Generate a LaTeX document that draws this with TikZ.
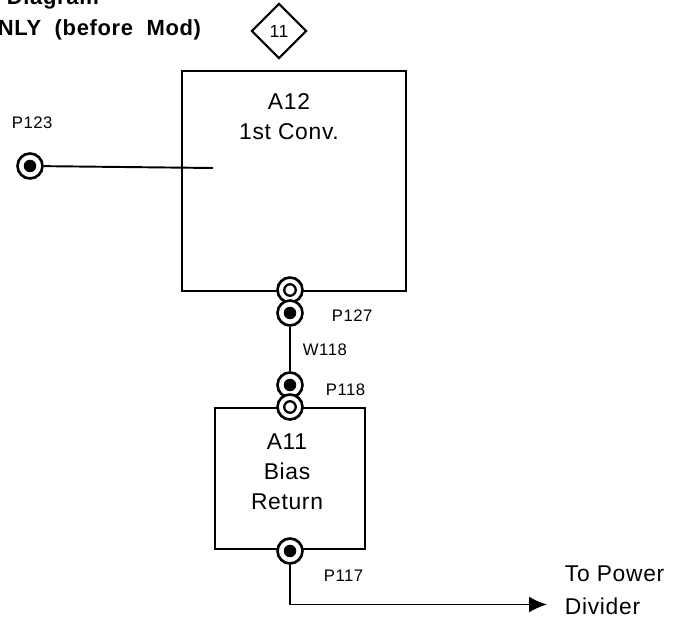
\documentclass[tikz,border=0pt]{standalone}
\usepackage{fontspec}
\setmainfont{Liberation Sans}[LetterSpace=3]
\usetikzlibrary{arrows.meta, positioning, shapes.geometric}
\tikzset{
  dgm/.style={font=\rmfamily, >={Latex[length=3.6mm,width=3.2mm]}, line width=1.1pt},
  blk/.style={draw, inner sep=0pt},
  jfill/.style={circle, draw, line width=1.5pt, fill=white, minimum size=5mm, inner sep=0pt,
                path picture={\fill[black] (path picture bounding box.center) circle (1.25mm);}},
  jopen/.style={circle, draw, line width=1.5pt, fill=white, minimum size=5mm, inner sep=0pt,
                path picture={\draw[line width=1.3pt] (path picture bounding box.center) circle (1.15mm);}},
  sm/.style={font=\fontsize{9.5}{12}\selectfont, inner sep=0pt, anchor=base west},
  big/.style={font=\fontsize{13}{17}\selectfont, inner sep=0pt, align=center},
  ttl/.style={font=\fontsize{12.5}{14}\selectfont\bfseries, inner sep=0pt, anchor=base west}
}
\begin{document}
\begin{tikzpicture}[dgm]
    \useasboundingbox (0,0) rectangle (13.5,12.38);
    \clip (0,0) rectangle (13.5,12.38);

    \node[ttl] (ttlone) at (0.12,12.28) {Diagram};
    \node[ttl] (ttltwo) at (-0.06,11.67) {NLY\ \ (before\ \ Mod)};
    \node[diamond, draw, line width=1.2pt, minimum size=11mm, inner sep=0pt, font=\fontsize{10}{12}\selectfont] (dia) at (5.58,11.76) {11};

    \node[blk, minimum width=44.8mm, minimum height=44mm] (a12) at (5.88,8.76) {};
    \node[blk, minimum width=30mm, minimum height=28.2mm] (a11) at (5.80,2.81) {};
    \node[big, below=4.6mm of a12.north, xshift=-1mm] (a12txt) {A12\\1st Conv.};
    \node[big, below=5.2mm of a11.north, xshift=-0.6mm] (a11txt) {A11\\Bias\\Return};

    \node[jfill] (p123) at (0.60,9.06) {};
    \coordinate (p123end) at (4.26,9.02);
    \node[jopen] (j12) at (5.80,6.58) {};
    \node[jfill] (p127) at (5.80,6.12) {};
    \node[jfill] (p118) at (5.80,4.68) {};
    \node[jopen] (j11) at (5.80,4.24) {};
    \node[jfill] (p117) at (5.80,1.36) {};
    \coordinate (bend) at (5.80,0.29);
    \coordinate (tip) at (10.94,0.29);

    \draw (p123) -- (p123end);
    \draw (p127) -- (p118);
    \draw[->] (p117) -- (bend) -- (tip);

    \node[sm] (l123) at (0.22,9.80) {P123};
    \node[sm] (l127) at (6.62,5.94) {P127};
    \node[sm] (l118w) at (6.04,5.26) {W118};
    \node[sm] (l118) at (6.50,4.46) {P118};
    \node[sm] (l117) at (6.46,0.74) {P117};
    \node[font=\fontsize{13}{19}\selectfont, inner sep=0pt, align=left, anchor=west] (pwr) at (11.28,0.58) {To Power\\Divider};
\end{tikzpicture}
\end{document}
